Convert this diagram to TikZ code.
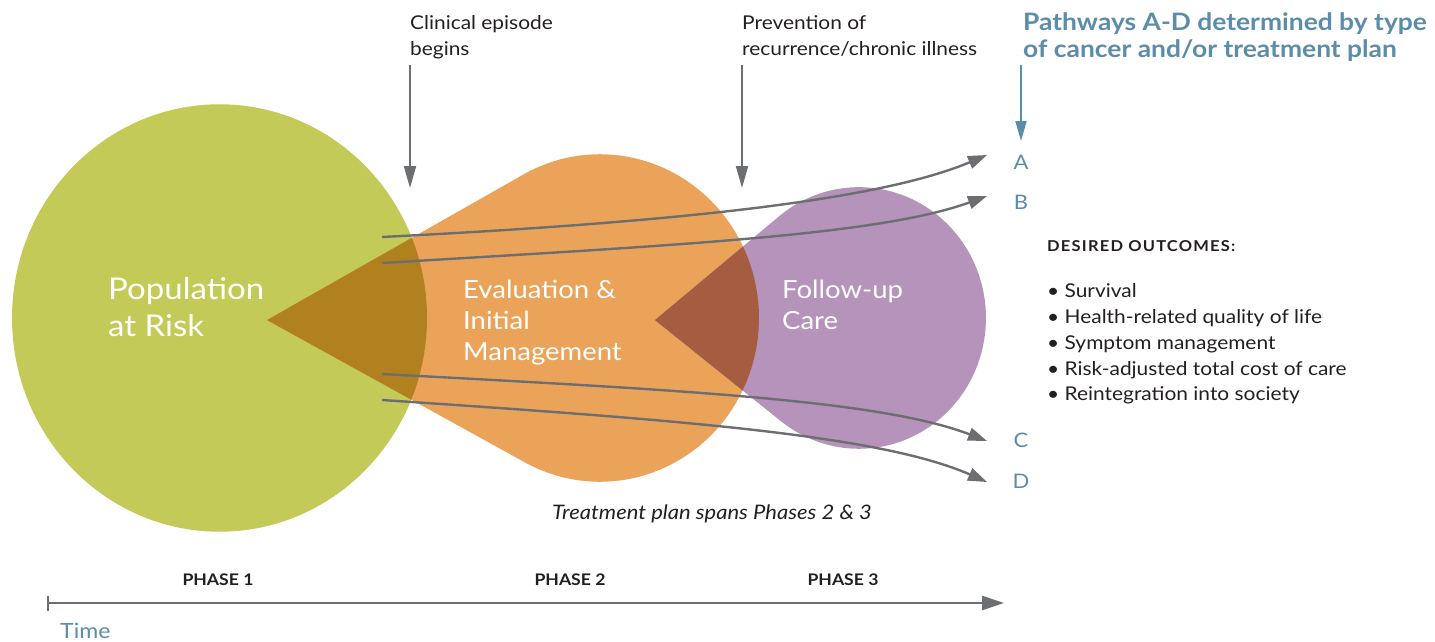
\documentclass[tikz,border=0pt]{standalone}
\usepackage{fontspec}
\setmainfont{Lato}[FakeStretch=1.1]
\usetikzlibrary{arrows.meta}
\definecolor{cgreen}{HTML}{C3CA58}
\definecolor{corange}{HTML}{EBA359}
\definecolor{cpurple}{HTML}{B593BA}
\definecolor{cdarkgo}{HTML}{B1801F}
\definecolor{cdarkop}{HTML}{A65C40}
\definecolor{cgray}{HTML}{6D6E71}
\definecolor{cblue}{HTML}{5B8CAA}
\definecolor{ctext}{HTML}{231F20}
\newcommand\fsz[1]{\fontsize{#1}{#1}\selectfont}
\newcommand\grshape{(219.5,0) circle[radius=207.5]}
\newcommand\orshape{(267,2) -- (524.1,-139.7) arc[start angle=-118.5,end angle=118.5,radius=159] -- cycle}
\newcommand\pushape{(655,2) -- (779.9,-99.4) arc[start angle=-128.5,end angle=128.5,radius=127] -- cycle}
\begin{document}
\begin{tikzpicture}[x=1pt,y=-1pt,
  bigwhite/.style={text=white,anchor=base west,inner sep=0pt},
  small/.style={text=ctext,anchor=base west,inner sep=0pt,font=\fsz{19}},
  pathline/.style={draw=cgray,line width=2.4pt,-{Triangle[length=19pt,width=13pt]}},
  vline/.style={draw=cgray,line width=2pt,-{Triangle[length=22pt,width=12pt]}},
  letter/.style={text=cblue,font=\fsz{20},inner sep=0pt},
  phase/.style={text=ctext,font=\bfseries\fsz{16},inner sep=0pt},
  bullet/.style={text=ctext,anchor=base west,inner sep=0pt,font=\fsz{19}}]
\useasboundingbox (0,0) rectangle (1435,642);

% shapes
\begin{scope}[shift={(0,318)},yscale=1.03]
  \fill[cgreen] \grshape;
  \fill[corange] \orshape;
  \fill[cpurple] \pushape;
  \begin{scope}
    \clip \grshape;
    \fill[cdarkgo] \orshape;
  \end{scope}
  \begin{scope}
    \clip \orshape;
    \fill[cdarkop] \pushape;
  \end{scope}
\end{scope}

% white labels
\node[bigwhite,font=\fsz{30}] (pop1) at (108,299) {Population};
\node[bigwhite,font=\fsz{30}] (pop2) at (108,336) {at Risk};
\node[bigwhite,font=\fsz{25}] (ev1) at (463,298) {Evaluation \&};
\node[bigwhite,font=\fsz{25}] (ev2) at (463,329) {Initial};
\node[bigwhite,font=\fsz{25}] (ev3) at (463,360) {Management};
\node[bigwhite,font=\fsz{25}] (fu1) at (782,298) {Follow-up};
\node[bigwhite,font=\fsz{25}] (fu2) at (782,329) {Care};

% top annotations
\node[small] (ce1) at (410,30) {Clinical episode};
\node[small] (ce2) at (410,56) {begins};
\node[small] (pr1) at (742,30) {Prevention of};
\node[small] (pr2) at (742,56) {recurrence/chronic illness};
\coordinate (ceS) at (410,65);
\coordinate (ceE) at (410,188);
\coordinate (prS) at (742,65);
\coordinate (prE) at (742,188);
\draw[vline] (ceS) -- (ceE);
\draw[vline] (prS) -- (prE);

% pathway title
\node[text=cblue,anchor=base west,inner sep=0pt,font=\bfseries\fsz{24}] (pw1) at (1023,31) {Pathways A-D determined by type};
\node[text=cblue,anchor=base west,inner sep=0pt,font=\bfseries\fsz{24}] (pw2) at (1023,58) {of cancer and/or treatment plan};
\coordinate (pwS) at (1021,65);
\coordinate (pwE) at (1021,141);
\draw[draw=cblue,line width=2pt,-{Triangle[length=20pt,width=11pt]}] (pwS) -- (pwE);

% letters
\node[letter] (LA) at (1021,162) {A};
\node[letter] (LB) at (1021,202) {B};
\node[letter] (LC) at (1021,440) {C};
\node[letter] (LD) at (1021,481) {D};

% pathway lines
\coordinate (a1) at (382,237); \coordinate (a2) at (987,155);
\coordinate (b1) at (382,263); \coordinate (b2) at (987,196);
\coordinate (c1) at (382,374); \coordinate (c2) at (987,441);
\coordinate (d1) at (382,400); \coordinate (d2) at (987,482);
\draw[pathline] (a1) .. controls (680,222) and (880,200) .. (a2);
\draw[pathline] (b1) .. controls (680,245) and (880,235) .. (b2);
\draw[pathline] (c1) .. controls (680,390) and (880,400) .. (c2);
\draw[pathline] (d1) .. controls (680,420) and (880,435) .. (d2);

% outcomes
\node[text=ctext,anchor=base west,inner sep=0pt,font=\bfseries\fsz{15}\addfontfeatures{LetterSpace=8}] (do) at (1047,251) {DESIRED OUTCOMES:};
\node[bullet] (o1) at (1047,297) {• Survival};
\node[bullet] (o2) at (1047,323) {• Health-related quality of life};
\node[bullet] (o3) at (1047,349) {• Symptom management};
\node[bullet] (o4) at (1047,375) {• Risk-adjusted total cost of care};
\node[bullet] (o5) at (1047,400) {• Reintegration into society};

% treatment note
\node[text=ctext,inner sep=0pt,font=\itshape\fsz{20}] (tp) at (712,514) {Treatment plan spans Phases 2 \& 3};

% time axis
\node[phase] (ph1) at (218,580) {PHASE 1};
\node[phase] (ph2) at (570,580) {PHASE 2};
\node[phase] (ph3) at (843,580) {PHASE 3};
\coordinate (t0) at (48,603);
\coordinate (t1) at (1004,603);
\coordinate (tk1) at (48,596);
\coordinate (tk2) at (48,611);
\draw[cgray,line width=1.2pt] (tk1) -- (tk2);
\draw[cgray,line width=2.6pt,-{Triangle[length=22pt,width=14pt]}] (t0) -- (t1);
\node[text=cblue,anchor=base west,inner sep=0pt,font=\fsz{21}] (time) at (60,638) {Time};
\end{tikzpicture}
\end{document}
